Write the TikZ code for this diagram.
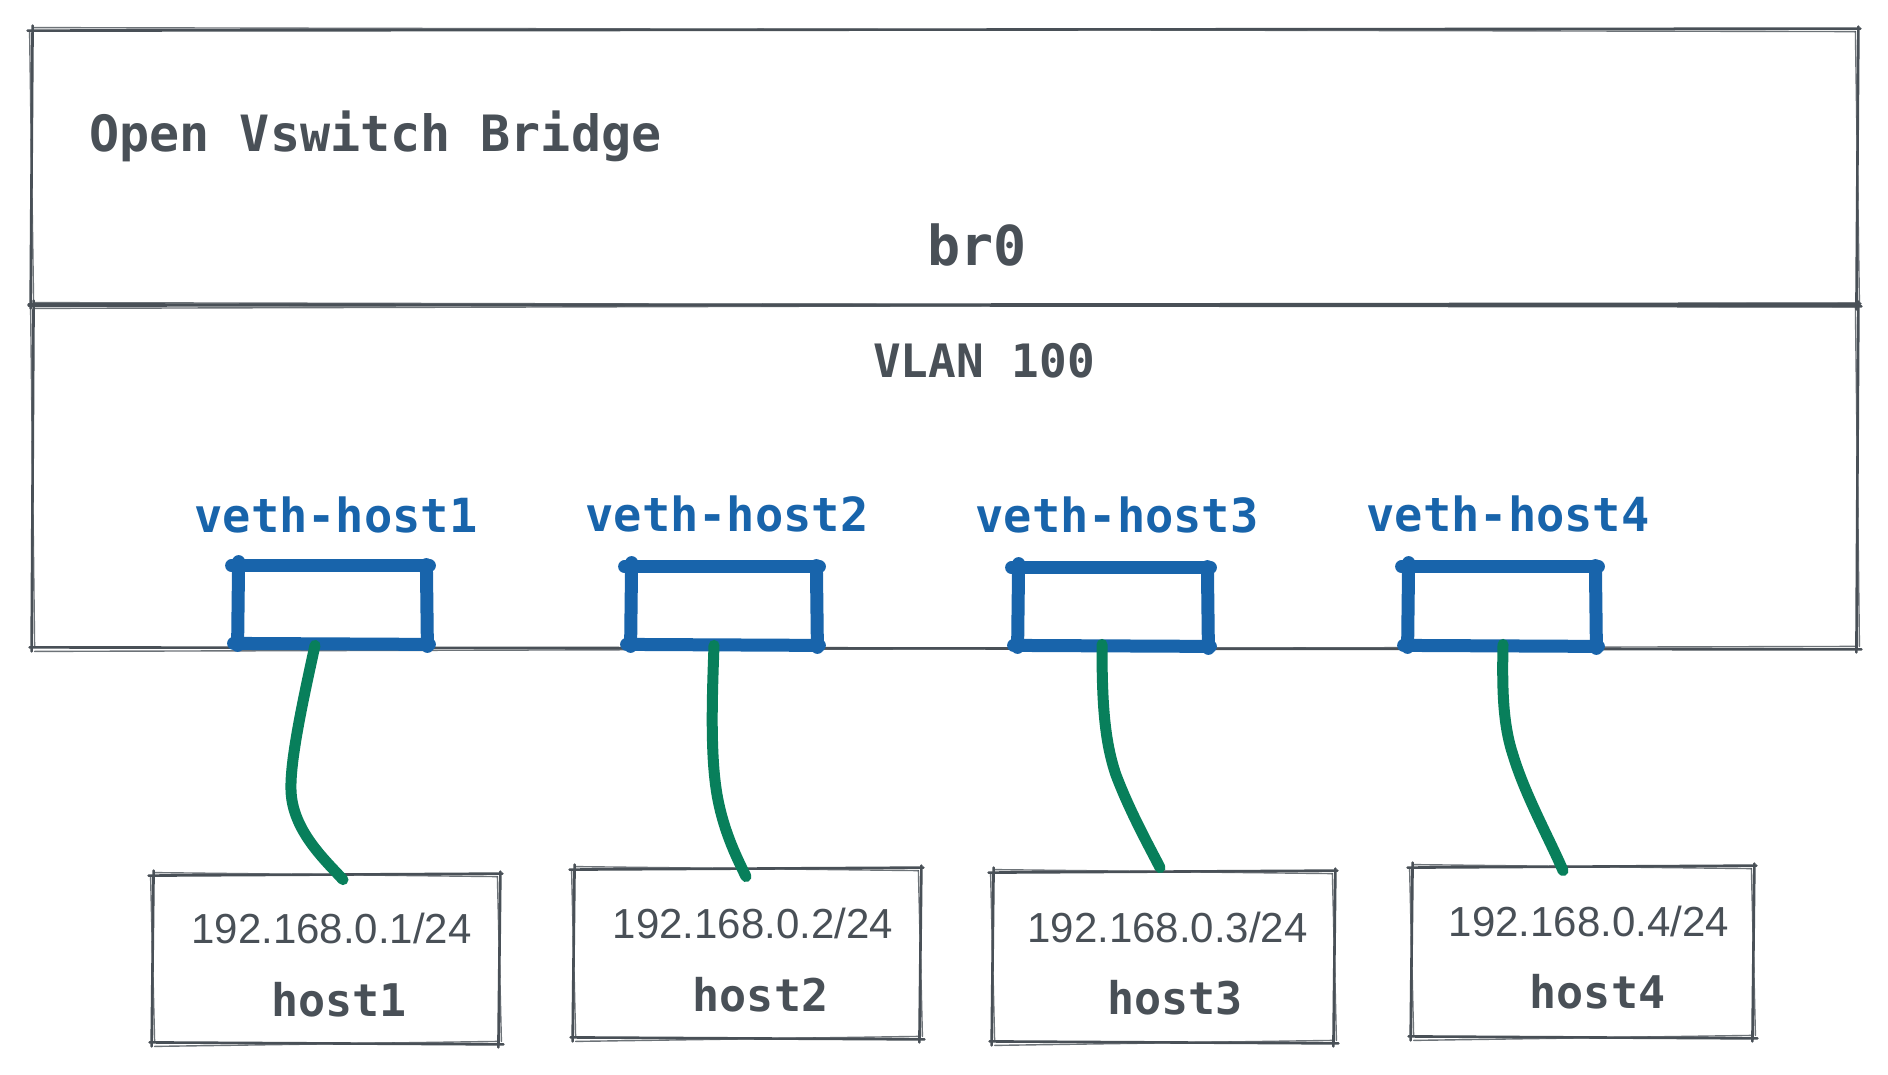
\documentclass[tikz,border=0pt]{standalone}
\usepackage{fontspec}
\setmainfont{Liberation Sans}
\setmonofont{DejaVu Sans Mono}
\definecolor{ink}{HTML}{495057}
\definecolor{vblue}{HTML}{1864AB}
\definecolor{vgreen}{HTML}{087F5B}
\newcommand{\skbox}[1]{%
  \draw[gline] ([shift={(-4,1)}]#1.north west) -- ([shift={(3,-1)}]#1.north east);
  \draw[gthin] ([shift={(2,-2)}]#1.north west) -- ([shift={(-2,2)}]#1.north east);
  \draw[gline] ([shift={(1,-3)}]#1.north east) -- ([shift={(-1,4)}]#1.south east);
  \draw[gthin] ([shift={(-2,2)}]#1.north east) -- ([shift={(2,-2)}]#1.south east);
  \draw[gline] ([shift={(4,1)}]#1.south east) -- ([shift={(-3,-1)}]#1.south west);
  \draw[gthin] ([shift={(-2,-2)}]#1.south east) -- ([shift={(2,3)}]#1.south west);
  \draw[gline] ([shift={(-1,3)}]#1.south west) -- ([shift={(1,-4)}]#1.north west);
  \draw[gthin] ([shift={(2,-2)}]#1.south west) -- ([shift={(-2,2)}]#1.north west);
}
\newcommand{\vethoutline}[1]{%
  \draw[bline] ([shift={(-6,-2)}]#1.north west) -- ([shift={(3,-2)}]#1.north east);
  \draw[bline] ([shift={(0,-3)}]#1.north east) -- ([shift={(1,3)}]#1.south east);
  \draw[bline] ([shift={(3,1)}]#1.south east) -- ([shift={(-4,0)}]#1.south west);
  \draw[bline] ([shift={(0,2)}]#1.south west) -- ([shift={(1,-6)}]#1.north west);
}
\begin{document}
\begin{tikzpicture}[x=0.5pt,y=-0.5pt,
  gline/.style={draw=ink,line width=1.3pt,line cap=round},
  gthin/.style={draw=ink,line width=0.7pt,line cap=round,opacity=0.8},
  frame/.style={draw=none,rectangle,inner sep=0pt},
  bline/.style={draw=vblue,line width=6.5pt,line cap=round,line join=round},
  wire/.style={draw=vgreen,line width=5.5pt,line cap=round},
  monotxt/.style={text=ink,anchor=base,inner sep=0pt},
  iptxt/.style={text=ink,anchor=base,inner sep=0pt,font=\fontsize{21pt}{24pt}\selectfont},
  hosttxt/.style={monotxt,font=\ttfamily\bfseries\fontsize{22.5pt}{26pt}\selectfont},
  vethtxt/.style={text=vblue,anchor=base,inner sep=0pt,font=\ttfamily\bfseries\fontsize{23.5pt}{26pt}\selectfont}
]
\useasboundingbox (0,0) rectangle (1888,1075);
\fill[white] (0,0) rectangle (1888,1075);

% outer bridge and vlan frames
\node[frame,minimum width=912.5pt,minimum height=137.5pt] (bridge) at (944.5,167.5) {};
\node[frame,minimum width=912pt,minimum height=171.5pt] (vlan) at (945,476.5) {};
\skbox{bridge}
\skbox{vlan}

\node[monotxt,anchor=base west,font=\ttfamily\bfseries\fontsize{25pt}{28pt}\selectfont] (title) at (89,152) {Open Vswitch Bridge};
\node[monotxt,font=\ttfamily\bfseries\fontsize{27.5pt}{30pt}\selectfont] (br0) at (977,265) {br0};
\node[monotxt,font=\ttfamily\bfseries\fontsize{23pt}{26pt}\selectfont] (vlantxt) at (984,377) {VLAN 100};

% veth labels
\node[vethtxt] (l1) at (336,532) {veth-host1};
\node[vethtxt] (l2) at (727,531) {veth-host2};
\node[vethtxt] (l3) at (1117,532) {veth-host3};
\node[vethtxt] (l4) at (1508,531) {veth-host4};

% veth boxes
\node[frame,minimum width=94pt,minimum height=37.5pt] (v1) at (332,605.5) {};
\node[frame,minimum width=92.5pt,minimum height=37.5pt] (v2) at (723.5,606.5) {};
\node[frame,minimum width=94.5pt,minimum height=37.5pt] (v3) at (1112.5,607.5) {};
\node[frame,minimum width=93.5pt,minimum height=38pt] (v4) at (1501.5,607) {};
\vethoutline{v1}
\vethoutline{v2}
\vethoutline{v3}
\vethoutline{v4}

% host boxes
\node[frame,minimum width=173pt,minimum height=84pt] (h1) at (326,959) {};
\node[frame,minimum width=173pt,minimum height=84.5pt] (h2) at (747,953.5) {};
\node[frame,minimum width=170.5pt,minimum height=85pt] (h3) at (1163.5,957) {};
\node[frame,minimum width=170.5pt,minimum height=85pt] (h4) at (1582.5,952) {};
\skbox{h1}
\skbox{h2}
\skbox{h3}
\skbox{h4}

\node[iptxt] (ip1) at (331.5,943) {192.168.0.1/24};
\node[iptxt] (ip2) at (753,938) {192.168.0.2/24};
\node[iptxt] (ip3) at (1167.5,942) {192.168.0.3/24};
\node[iptxt] (ip4) at (1589,936) {192.168.0.4/24};

\node[hosttxt] (n1) at (339,1016) {host1};
\node[hosttxt] (n2) at (760.5,1011) {host2};
\node[hosttxt] (n3) at (1175,1014) {host3};
\node[hosttxt] (n4) at (1597.5,1008) {host4};

% wires
\draw[wire] ([shift={(-17,2)}]v1.south) .. controls (303,700) and (290,760) .. (291,790)
  .. controls (292,830) and (325,860) .. ([shift={(17,5)}]h1.north);
\draw[wire] ([shift={(-9.5,1)}]v2.south) .. controls (712,700) and (710,760) .. (718,800)
  .. controls (725,835) and (738,860) .. ([shift={(-1,8)}]h2.north);
\draw[wire] ([shift={(-10.5,-1)}]v3.south) .. controls (1102,700) and (1104,740) .. (1116,775)
  .. controls (1130,812) and (1150,848) .. ([shift={(-3.5,-4)}]h3.north);
\draw[wire] ([shift={(1.5,-1)}]v4.south) .. controls (1502,690) and (1503,725) .. (1513,755)
  .. controls (1525,795) and (1550,840) .. ([shift={(-19.5,4)}]h4.north);
\end{tikzpicture}
\end{document}
